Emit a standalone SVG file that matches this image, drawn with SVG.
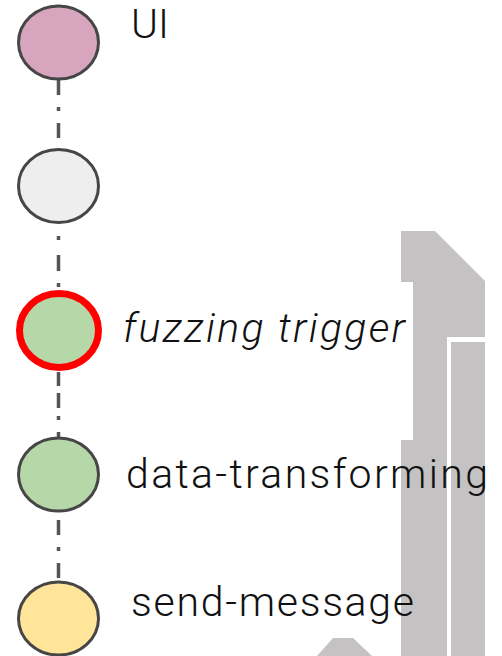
<svg xmlns="http://www.w3.org/2000/svg" width="502" height="656" viewBox="0 0 502 656">
  <style>
    .node { stroke: #464646; stroke-width: 3; }
    .label { font-family: Roboto, "Open Sans", "Liberation Sans", sans-serif; font-size: 41px; font-weight: 300; fill: #111; }
    .link { stroke: #555; stroke-width: 3.5; fill: none; }
    .block { fill: #c4c2c3; }
  </style>

  <!-- background blocks -->
  <g id="blocks">
    <path class="block" d="M401,231 L435,231 L485,281 L485,337 L447,337 L447,656 L401,656 L401,440 L413,440 L413,282 L401,282 Z"/>
    <rect class="block" x="451" y="342" width="34" height="314"/>
    <path class="block" d="M317,656 L333,638 L353,638 L372,656 Z"/>
  </g>

  <!-- dash-dot connectors between the stages -->
  <g id="connectors">
    <path class="link" d="M58.5,80 V95 M58.5,107 V111 M58.5,123 V138"/>
    <path class="link" d="M58.5,236 V240 M58.5,255 V271 M58.5,283 V287"/>
    <path class="link" d="M58.5,372 V386 M58.5,393 V408 M58.5,416 V420 M58.5,432 V437"/>
    <path class="link" d="M58.5,520 V535 M58.5,547 V551 M58.5,563 V578"/>
  </g>

  <g id="ui">
    <ellipse class="node" cx="58.5" cy="42.5" rx="40" ry="36.5" fill="#d7a5be"/>
    <text class="label" x="131" y="38">UI</text>
  </g>

  <g id="blank">
    <ellipse class="node" cx="58.5" cy="186" rx="40" ry="36.5" fill="#eeeeee"/>
  </g>

  <g id="fuzzing-trigger">
    <ellipse cx="59" cy="330.5" rx="39.5" ry="37" fill="#b6d7a8" stroke="#ff0000" stroke-width="7"/>
    <text class="label" x="123" y="342" font-style="italic" textLength="282">fuzzing trigger</text>
  </g>

  <g id="data-transforming">
    <ellipse class="node" cx="58.5" cy="474.5" rx="40" ry="36.5" fill="#b6d7a8"/>
    <text class="label" x="126" y="488" textLength="362">data-transforming</text>
  </g>

  <g id="send-message">
    <ellipse class="node" cx="58.5" cy="618.5" rx="40" ry="36.5" fill="#ffe599"/>
    <text class="label" x="131" y="616" textLength="283">send-message</text>
  </g>
</svg>
